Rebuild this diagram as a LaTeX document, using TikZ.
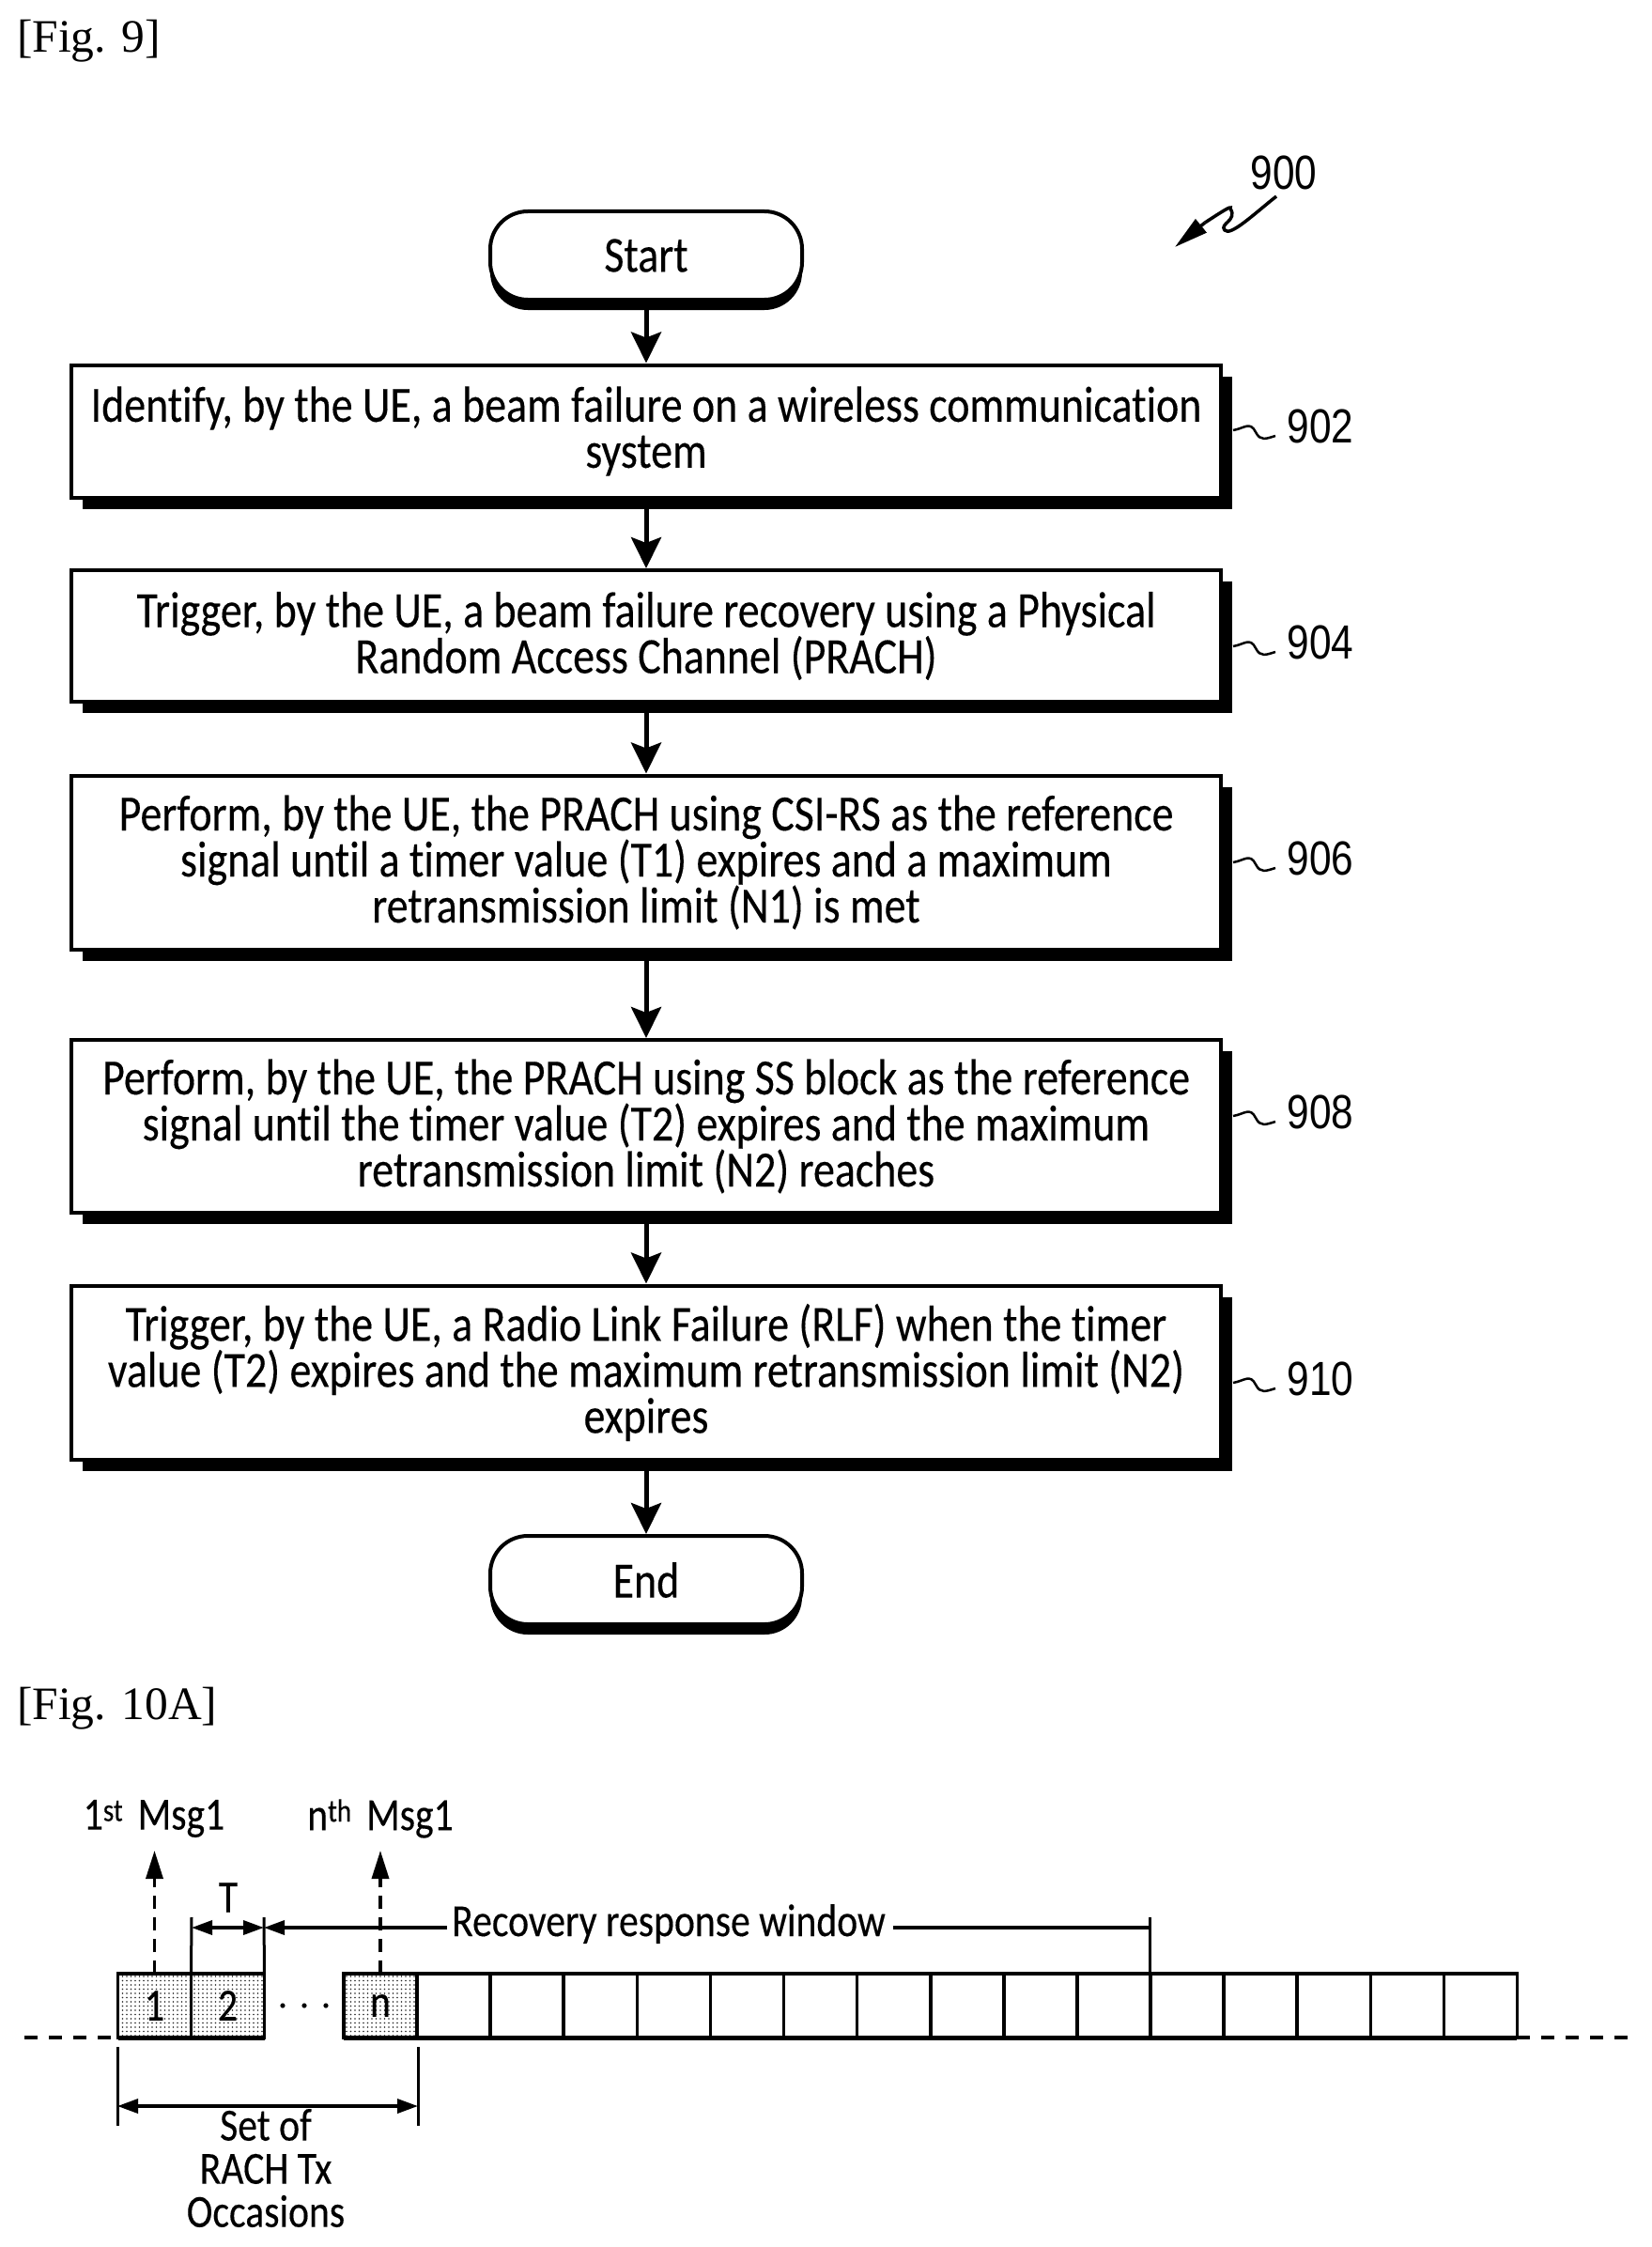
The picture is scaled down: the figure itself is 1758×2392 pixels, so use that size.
\documentclass[tikz,border=0pt]{standalone}
\usepackage{fontspec}
\setmainfont{Liberation Serif}
\newfontfamily\labfont[FakeStretch=0.85,FakeBold=0.25,Ligatures={NoCommon}]{Carlito}
\newfontfamily\numfont[FakeStretch=0.83]{Liberation Sans}
\usetikzlibrary{arrows.meta,shadows,patterns.meta}
\tikzset{
  x=1pt,y=-1pt,
  bigarrow/.style={line width=5pt,-{Stealth[length=33pt,width=32pt,inset=6pt]}},
  procbox/.style={draw,line width=4pt,fill=white,minimum width=1224pt,inner sep=0pt,align=center,
    font=\labfont\fontsize{54}{49}\selectfont,
    general shadow={fill=black,shadow xshift=12pt,shadow yshift=-12pt}},
  termbox/.style={draw,line width=4pt,fill=white,minimum width=332pt,minimum height=94pt,rounded corners=40pt,
    font=\labfont\fontsize{54}{49}\selectfont,
    general shadow={fill=black,shadow xshift=0pt,shadow yshift=-11pt}},
  reflabel/.style={inner sep=0pt,font=\numfont\fontsize{51}{51}\selectfont},
  figlabel/.style={inner sep=0pt,anchor=west,font=\fontsize{49.5}{50}\selectfont},
  txt/.style={inner sep=0pt,align=center,font=\labfont\fontsize{49}{46}\selectfont},
  celloff/.style={draw,line width=3.5pt,minimum width=78pt,minimum height=68pt,inner sep=0pt,outer sep=0pt},
  cellon/.style={celloff,pattern={Dots[distance=4.5pt,radius=0.85pt]},pattern color=black!85},
  thinsq/.style={line width=2.5pt},
  dim/.style={line width=3.5pt,{Stealth[length=22pt,width=15pt,inset=0pt]}-{Stealth[length=22pt,width=15pt,inset=0pt]}},
  single/.style={line width=3.5pt,-{Stealth[length=22pt,width=15pt,inset=0pt]}},
  upd/.style={line width=3.5pt,dash pattern=on 14pt off 9pt,-{Stealth[length=30pt,width=18pt,inset=0pt]}},
  tick/.style={line width=3pt},
}
\begin{document}
\begin{tikzpicture}
\useasboundingbox (0,0) rectangle (1758,2392);
\node[figlabel] (fig9) at (18,44) {[Fig. 9]};
\node[figlabel] (fig10) at (18,1819) {[Fig. 10A]};

\node[termbox] (start) at (688,272) {Start};
\node[procbox,minimum height=141pt] (b902) at (688,459) {Identify, by the UE, a beam failure on a wireless communication\\system};
\node[procbox,minimum height=140pt] (b904) at (688,677) {Trigger, by the UE, a beam failure recovery using a Physical\\Random Access Channel (PRACH)};
\node[procbox,minimum height=185pt] (b906) at (688,918) {Perform, by the UE, the PRACH using CSI-RS as the reference\\signal until a timer value (T1) expires and a maximum\\retransmission limit (N1) is met};
\node[procbox,minimum height=184pt] (b908) at (688,1199) {Perform, by the UE, the PRACH using SS block as the reference\\signal until the timer value (T2) expires and the maximum\\retransmission limit (N2) reaches};
\node[procbox,minimum height=185pt] (b910) at (688,1461) {Trigger, by the UE, a Radio Link Failure (RLF) when the timer\\value (T2) expires and the maximum retransmission limit (N2)\\expires};
\node[termbox] (end) at (688,1682) {End};

\draw[bigarrow] (start.south) -- (b902.north);
\draw[bigarrow] (b902.south) -- (b904.north);
\draw[bigarrow] (b904.south) -- (b906.north);
\draw[bigarrow] (b906.south) -- (b908.north);
\draw[bigarrow] (b908.south) -- (b910.north);
\draw[bigarrow] (b910.south) -- (end.north);

\foreach \n/\ly in {902/454,904/684,906/914,908/1184,910/1468}{
  \node[reflabel] (l\n) at (1406,\ly) {\n};
  \coordinate (s\n) at (1313,\ly+4);
  \coordinate (e\n) at (1358,\ly+10);
  \draw[thinsq] (s\n) .. controls (1325,\ly+2) and (1331,\ly-6) .. (1337,\ly+6)
     .. controls (1342,\ly+16) and (1348,\ly+13) .. (e\n);
}
\node[reflabel] (l900) at (1367,184) {900};
\coordinate (a0) at (1359,209);
\coordinate (a1) at (1310,222);
\coordinate (a2) at (1283,237);
\coordinate (a3) at (1251,263);
\draw[line width=3.5pt] (a0) .. controls (1335,228) and (1310,252) .. (1304,245)
   .. controls (1298,238) and (1318,235) .. (a1) .. controls (1312,218) and (1300,226) .. (a2);
\draw[line width=3.5pt,-{Stealth[length=36pt,width=18pt,inset=0pt]}] (a2) -- (a3);

% Fig 10A
\foreach \i/\x in {1/164.5,2/242.5}{\node[cellon] (c\i) at (\x,2135) {};}
\node[cellon] (cn) at (405,2135) {};
\node[txt] (t1) at (c1) {1};
\node[txt] (t2) at (c2) {2};
\node[txt] (tn) at (cn) {n};
\foreach \i in {1,...,15}{
  \node[celloff] (r\i) at ({444+78.1*(\i-0.5)},2135) {};
}
\draw[line width=5pt] (c1.south west) -- (c2.south east);
\draw[line width=5pt] (cn.south west) -- (r15.south east);
\foreach \x/\m in {301/d1,324/d2,347/d3}{\fill (\x,2135) circle (2.6pt) coordinate (\m);}
\coordinate (ll) at (26,2169);
\coordinate (lr) at (1733,2169);
\draw[line width=4pt,dash pattern=on 14pt off 12pt] (ll) -- (c1.south west);
\draw[line width=4pt,dash pattern=on 14pt off 12pt] (r15.south east) -- (lr);

\node[txt] (m1) at (164,1936) {1\textsuperscript{st}\hspace{6pt} Msg1};
\node[txt] (mn) at (405,1936) {n\textsuperscript{th}\hspace{6pt} Msg1};
\draw[upd] (c1.north) -- (164.5,1970) coordinate (m1a);
\draw[upd] (cn.north) -- (405,1970) coordinate (mna);

\node[txt] (tt) at (243,2020) {T};
\coordinate (t1a) at (204,2052);
\coordinate (t2a) at (281,2052);
\draw[tick] (c1.north east) -- (204,2041);
\draw[tick] (c2.north east) -- (281,2041);
\draw[dim] (t1a) -- (t2a);
\node[txt] (rr) at (712,2048) {Recovery response window};
\draw[single] (rr.west) ++(-5,4) coordinate (rl) -- (t2a);
\draw[tick] (r10.north east) -- ++(0,-60) coordinate (rt);
\draw[line width=3.5pt] (rr.east) ++(8,4) -- (rt |- 1,2052);

\coordinate (lt1) at (125,2179);
\coordinate (lt2) at (125,2263);
\coordinate (rt1) at (445,2179);
\coordinate (rt2) at (445,2263);
\draw[tick] (lt1) -- (lt2);
\draw[tick] (rt1) -- (rt2);
\draw[dim] (125,2242) coordinate (sa) -- (445,2242) coordinate (sb);
\node[txt] (set) at (283,2308) {Set of\\RACH Tx\\Occasions};
\end{tikzpicture}
\end{document}
